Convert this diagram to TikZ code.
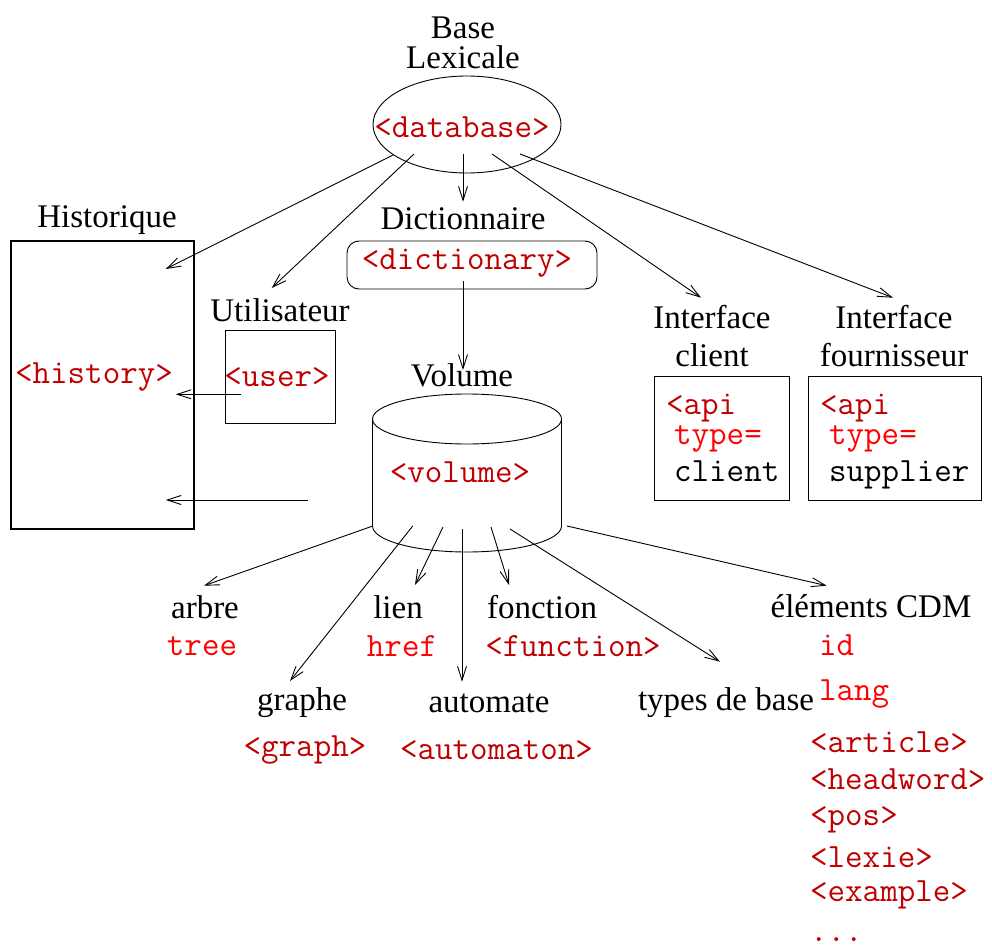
\documentclass[tikz,border=0pt]{standalone}
\usepackage{fontspec}
\setmainfont{Liberation Serif}
\usetikzlibrary{arrows.meta,shapes.geometric}
\definecolor{tagred}{RGB}{192,0,0}
\definecolor{attred}{RGB}{255,0,0}
\begin{document}
\begin{tikzpicture}[x=1pt,y=-1pt,
  lbl/.style={font=\fontsize{33}{33}\selectfont, inner sep=0pt},
  tag/.style={font=\ttfamily\fontsize{34}{34}\selectfont, text=tagred, inner sep=0pt},
  att/.style={font=\ttfamily\fontsize{34}{34}\selectfont, text=attred, inner sep=0pt},
  mono/.style={font=\ttfamily\fontsize{34}{34}\selectfont, inner sep=0pt},
  arr/.style={-{Straight Barb[length=14pt,width=9pt]}, line width=0.9pt},
  box/.style={draw, line width=0.9pt, inner sep=0pt},
]
\useasboundingbox (0,0) rectangle (992,944);

% ---------- Base lexicale ----------
\node[lbl] (baselbl) at (463,28) {Base};
\node[lbl] (lexlbl) at (463,57) {Lexicale};
\node[box, ellipse, minimum width=188, minimum height=97] (db) at (467,124.5) {};
\node[tag] (dbtxt) at (462,127) {<database>};

% ---------- Historique ----------
\node[lbl] (histlbl) at (107,220) {Historique};
\node[box, line width=2pt, minimum width=183, minimum height=288] (histbox) at (102.5,385) {};
\node[tag] (histtxt) at (94,377) {<history>};

% ---------- Utilisateur ----------
\node[lbl] (userlbl) at (280,310) {Utilisateur};
\node[box, minimum width=110, minimum height=93] (userbox) at (280,376.5) {};
\node[tag] (usertxt) at (277,377) {<user>};

% ---------- Dictionnaire ----------
\node[lbl] (dictlbl) at (463,219) {Dictionnaire};
\node[box, rounded corners=12pt, minimum width=250, minimum height=48] (dictbox) at (472,265) {};
\node[tag] (dicttxt) at (467,263) {<dictionary>};

% ---------- Volume (cylinder) ----------
\node[lbl] (vollbl) at (462,375) {Volume};
\draw[line width=0.9pt] (467,419) ellipse [x radius=94.5, y radius=25];
\draw[line width=0.9pt] (372.5,419) -- (372.5,526) arc[start angle=180, end angle=360, x radius=94.5, y radius=-26] -- (561.5,419);
\node[tag] (voltxt) at (460,472) {<volume>};

% ---------- Interfaces ----------
\node[lbl] (iclbl1) at (712,317) {Interface};
\node[lbl] (iclbl2) at (712,355) {client};
\node[box, minimum width=135, minimum height=124] (icbox) at (721.5,438) {};
\node[tag, anchor=base west] (ic1) at (666,414) {<api};
\node[att, anchor=base west] (ic2) at (674,444) {type=};
\node[mono, anchor=base west] (ic3) at (674,481) {client};

\node[lbl] (iflbl1) at (894,317) {Interface};
\node[lbl] (iflbl2) at (894,355) {fournisseur};
\node[box, minimum width=173, minimum height=124] (ifbox) at (894.5,438) {};
\node[tag, anchor=base west] (if1) at (820,414) {<api};
\node[att, anchor=base west] (if2) at (829,444) {type=};
\node[mono, anchor=base west] (if3) at (829,481) {supplier};

% ---------- bottom labels ----------
\node[lbl] (arbre) at (205,607) {arbre};
\node[att] (tree) at (202,646) {tree};
\node[lbl] (lien) at (398,607) {lien};
\node[att] (href) at (402,646) {href};
\node[lbl] (fonction) at (542,607) {fonction};
\node[tag] (function) at (573,646) {<function>};
\node[lbl] (graphe) at (302,703) {graphe};
\node[tag] (graph) at (305,750) {<graph>};
\node[lbl] (automate) at (489,703) {automate};
\node[tag] (automaton) at (496.5,750) {<automaton>};
\node[lbl] (types) at (726,703) {types de base};
\node[lbl] (cdm) at (871,606) {éléments CDM};
\node[att, anchor=west] (id) at (819,645) {id};
\node[att, anchor=west] (lang) at (819,694) {lang};
\node[tag, anchor=west] (article) at (810,742) {<article>};
\node[tag, anchor=west] (headword) at (810,779) {<headword>};
\node[tag, anchor=west] (pos) at (810,820) {<pos>};
\node[tag, anchor=west] (lexie) at (810,857) {<lexie>};
\node[tag, anchor=west] (example) at (810,895) {<example>};
\node[tag, anchor=base west] (dots) at (810,941) {...};

% ---------- connector coordinates ----------
\coordinate (dbA) at (393,155);
\coordinate (dbB) at (414,154);
\coordinate (dbC) at (463,154);
\coordinate (dbD) at (492,154);
\coordinate (dbE) at (520,154);
\coordinate (histIn1) at (165.7,269);
\coordinate (userIn) at (271.7,288);
\coordinate (dictIn) at (463,201.7);
\coordinate (icIn) at (701,297.7);
\coordinate (ifIn) at (893,297.7);
\coordinate (dictOut) at (463,281);
\coordinate (volIn) at (463,370);
\coordinate (userOut) at (241,394.3);
\coordinate (histIn2) at (175.7,394.3);
\coordinate (volOut) at (308,500);
\coordinate (histIn3) at (165.7,500);
\coordinate (vA) at (372.7,526);
\coordinate (vB) at (412.7,526);
\coordinate (vC) at (443,527);
\coordinate (vD) at (462,529);
\coordinate (vE) at (491,527);
\coordinate (vF) at (510,529);
\coordinate (vG) at (567,526);
\coordinate (arbreIn) at (204,585.7);
\coordinate (grapheIn) at (290,681);
\coordinate (lienIn) at (415,585);
\coordinate (autoIn) at (462,681.7);
\coordinate (foncIn) at (509,585);
\coordinate (typesIn) at (720,661.7);
\coordinate (cdmIn) at (826.7,585.7);

% ---------- connectors ----------
\draw[arr] (dbA) -- (histIn1);
\draw[arr] (dbB) -- (userIn);
\draw[arr] (dbC) -- (dictIn);
\draw[arr] (dbD) -- (icIn);
\draw[arr] (dbE) -- (ifIn);
\draw[arr] (dictOut) -- (volIn);
\draw[arr] (userOut) -- (histIn2);
\draw[arr] (volOut) -- (histIn3);
\draw[arr] (vA) -- (arbreIn);
\draw[arr] (vB) -- (grapheIn);
\draw[arr] (vC) -- (lienIn);
\draw[arr] (vD) -- (autoIn);
\draw[arr] (vE) -- (foncIn);
\draw[arr] (vF) -- (typesIn);
\draw[arr] (vG) -- (cdmIn);
\end{tikzpicture}
\end{document}
